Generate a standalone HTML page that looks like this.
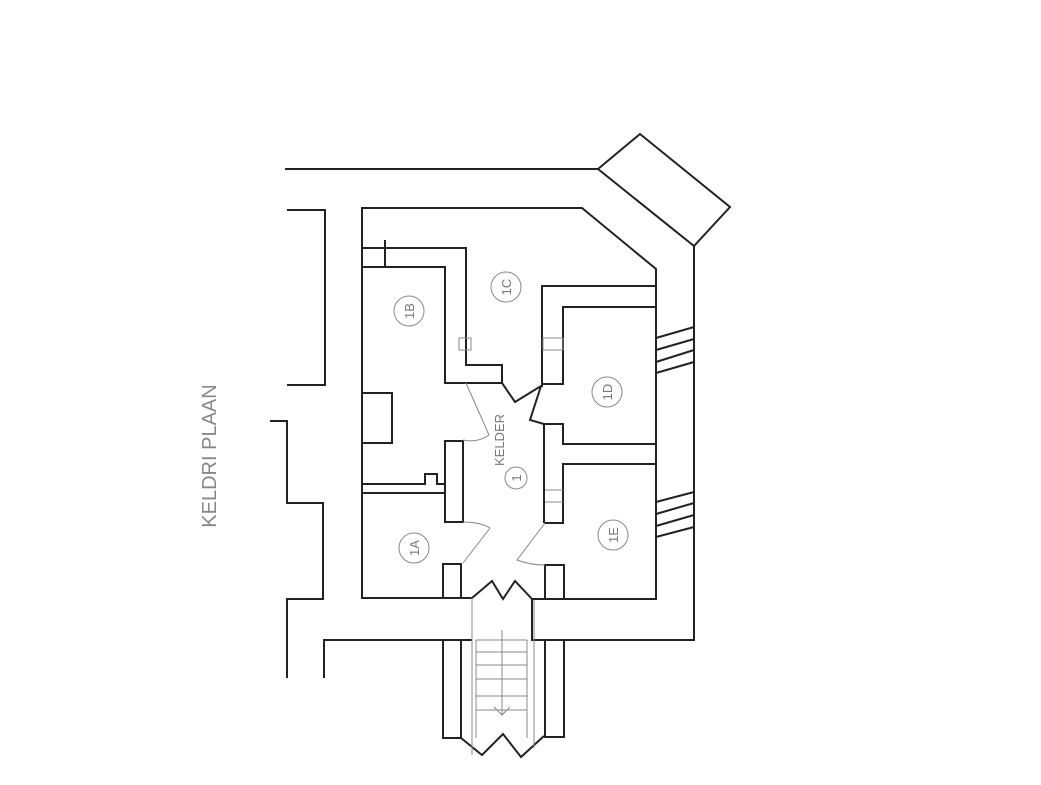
<!DOCTYPE html>
<html><head><meta charset="utf-8"><style>
html,body{margin:0;padding:0;background:#fff;}
svg{display:block;}
text{font-family:"Liberation Sans",sans-serif;fill:#777;}
</style></head><body>
<svg width="1041" height="785" viewBox="0 0 1041 785" xmlns="http://www.w3.org/2000/svg">
<g fill="none" stroke="#222" stroke-width="2" stroke-linejoin="miter">
<polyline points="285,169 598,169"/>
<polygon points="598,169 640,134 730,207 694,246"/>
<polyline points="694,246 694,640 532,640 532,599"/>
<polyline points="287,210 325,210 325,385 287,385"/>
<polyline points="270,421 287,421 287,503 323,503 323,599 287,599 287,678"/>
<polyline points="324,678 324,640 472,640"/>
<polyline points="472,598 362,598 362,208 582,208 656,269 656,599 532,599"/>
<polyline points="362,248 466,248 466,365 502,365 502,383 515,402 541,386 530,420 544,424 544,523"/>
<polyline points="544,424 563,424 563,444 656,444"/>
<polyline points="362,267 445,267 445,383 502,383"/>
<line x1="385" y1="240" x2="385" y2="267"/>
<polyline points="541,386 542,386 542,286 656,286"/>
<polyline points="656,307 563,307 563,384 542,384"/>
<polyline points="656,464 563,464 563,523 544,523"/>
<polyline points="362,393 392,393 392,443 362,443"/>
<polygon points="445,441 463,441 463,522 445,522"/>
<polyline points="362,484 425,484 425,474 437,474 437,484 445,484"/>
<line x1="362" y1="493" x2="445" y2="493"/>
<polygon points="443,564 461,564 461,598 443,598"/>
<polygon points="545,565 564,565 564,599 545,599"/>
<polyline points="472,598 492,581 503,599 515,581 532,599"/>
<polyline points="443,640 443,738 461,738 461,640"/>
<polyline points="545,640 545,737 564,737 564,640"/>
<polyline points="461,738 482,755 503,734 521,757 544,736"/>
<line x1="656" y1="338" x2="694" y2="327"/><line x1="656" y1="350" x2="694" y2="339"/>
<line x1="656" y1="362" x2="694" y2="350"/><line x1="656" y1="373" x2="694" y2="362"/>
<line x1="656" y1="502" x2="694" y2="492"/><line x1="656" y1="514" x2="694" y2="503"/>
<line x1="656" y1="526" x2="694" y2="515"/><line x1="656" y1="537" x2="694" y2="527"/>
</g>
<g fill="none" stroke="#888" stroke-width="1">
<rect x="459" y="338" width="12" height="12"/>
<rect x="543" y="338" width="20" height="12"/>
<line x1="545" y1="490" x2="563" y2="490"/><line x1="545" y1="502" x2="563" y2="502"/>
<path d="M466,383 L489,435 Q478,443 463,440"/>
<path d="M463,522 Q480,522 490,528 L463,563"/>
<path d="M545,523 L517,560 Q530,565 545,565"/>
<line x1="472" y1="598" x2="472" y2="755"/><line x1="476" y1="640" x2="476" y2="738"/>
<line x1="527" y1="640" x2="527" y2="738"/><line x1="534" y1="600" x2="534" y2="748"/>
<line x1="476" y1="640" x2="527" y2="640"/><line x1="476" y1="652" x2="527" y2="652"/>
<line x1="476" y1="665" x2="527" y2="665"/><line x1="476" y1="679" x2="527" y2="679"/>
<line x1="476" y1="696" x2="527" y2="696"/><line x1="476" y1="710" x2="527" y2="710"/>
<line x1="502" y1="630" x2="502" y2="715"/><polyline points="494,707 502,715 510,707"/>
<circle cx="409" cy="311" r="15"/><circle cx="506" cy="287" r="15"/>
<circle cx="607" cy="392" r="15"/><circle cx="516" cy="478" r="11"/>
<circle cx="414" cy="548" r="15"/><circle cx="613" cy="535" r="15"/>
</g>
<g font-size="13">
<text transform="translate(414,311) rotate(-90)" text-anchor="middle">1B</text>
<text transform="translate(511,287) rotate(-90)" text-anchor="middle">1C</text>
<text transform="translate(612,392) rotate(-90)" text-anchor="middle">1D</text>
<text transform="translate(521,478) rotate(-90)" text-anchor="middle">1</text>
<text transform="translate(419,548) rotate(-90)" text-anchor="middle">1A</text>
<text transform="translate(618,535) rotate(-90)" text-anchor="middle">1E</text>
<text transform="translate(504,440) rotate(-90)" text-anchor="middle" font-size="13">KELDER</text>
</g>
<text transform="translate(216,456) rotate(-90)" text-anchor="middle" font-size="20" style="fill:#888">KELDRI PLAAN</text>
</svg>
</body></html>
